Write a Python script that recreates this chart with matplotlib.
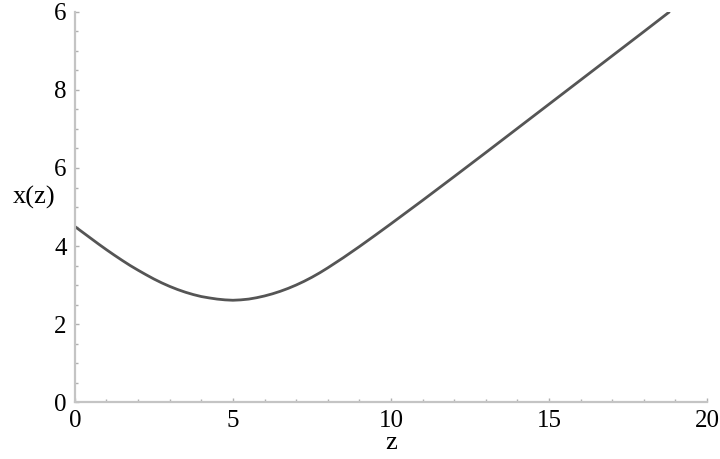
import matplotlib
matplotlib.use("Agg")
import matplotlib.pyplot as plt
import numpy as np
from matplotlib.ticker import MultipleLocator

# values
z_vals = [0, 0.25, 0.5, 0.75, 1, 1.25, 1.5, 1.75, 2, 2.25, 2.5, 2.75, 3,
          3.25, 3.5, 3.75, 4, 4.25, 4.5, 4.75, 5, 5.25, 5.5, 5.75, 6, 6.25,
          6.5, 6.75, 7, 7.25, 7.5, 7.75, 8, 8.5, 9, 9.5, 10, 11, 12, 13, 14,
          15, 16, 17, 18, 18.8]
x_vals = [4.50, 4.35, 4.20, 4.05, 3.905, 3.765, 3.63, 3.50, 3.38, 3.265,
          3.155, 3.055, 2.965, 2.885, 2.815, 2.755, 2.705, 2.67, 2.64, 2.62,
          2.61, 2.62, 2.64, 2.675, 2.72, 2.775, 2.84, 2.915, 3.0, 3.095,
          3.20, 3.315, 3.44, 3.705, 3.985, 4.275, 4.57, 5.17, 5.78, 6.395,
          7.015, 7.635, 8.255, 8.875, 9.495, 9.995]
x_ticks = [0, 5, 10, 15, 20]
x_ticklabels = ["0", "5", "10", "15", "20"]
y_ticks = [0, 2, 4, 6, 8, 10]
y_ticklabels = ["0", "2", "4", "6", "8", "6"]

plt.rcParams.update({"font.family": "serif",
                     "font.serif": ["Liberation Serif", "Times New Roman", "DejaVu Serif"],
                     "font.size": 18})

fig = plt.figure(figsize=(7.2, 4.59), dpi=100)
ax = fig.add_axes([0.104, 0.124, 0.878, 0.85])

ax.plot(z_vals, x_vals, color="#555555", lw=2.0, solid_capstyle="round",
        solid_joinstyle="round")

ax.set_xlim(0, 20)
ax.set_ylim(0, 10)
ax.set_xticks(x_ticks)
ax.set_xticklabels(x_ticklabels)
ax.set_yticks(y_ticks)
ax.set_yticklabels(y_ticklabels)
ax.xaxis.set_minor_locator(MultipleLocator(1))
ax.yaxis.set_minor_locator(MultipleLocator(0.5))

for side in ["top", "right"]:
    ax.spines[side].set_visible(False)
for side in ["left", "bottom"]:
    ax.spines[side].set_color("#c4c4c4")
    ax.spines[side].set_linewidth(1.6)

ax.tick_params(which="both", direction="in", color="#b0b0b0", width=1.0)
ax.tick_params(which="major", length=3, pad=6, labelsize=18)
ax.tick_params(which="minor", length=2.5)

ax.set_xlabel("z", fontsize=19, labelpad=0)
fig.text(0.048, 0.57, "x(z)", fontsize=19, ha="center", va="center")

fig.savefig("out.png", dpi=100)
